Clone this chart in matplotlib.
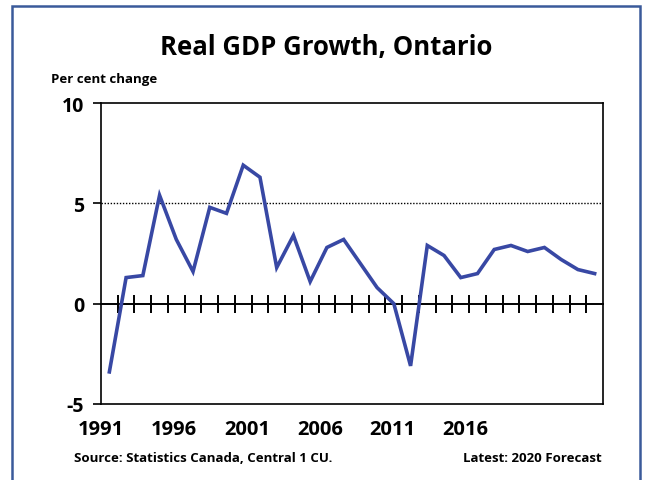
import matplotlib.pyplot as plt
from matplotlib.patches import Rectangle

# Ontario real GDP growth, per cent change
years = list(range(1991, 2021))
growth = [-3.4, 1.3, 1.4, 5.4, 3.2, 1.6, 4.8, 4.5, 6.9, 6.3,
          1.8, 3.4, 1.1, 2.8, 3.2, 2.0, 0.8, 0.0, -3.1, 2.9,
          2.4, 1.3, 1.5, 2.7, 2.9, 2.6, 2.8, 2.2, 1.7, 1.5]
year_labels = ["1991", "1996", "2001", "2006", "2011", "2016"]
y_ticks = [-5, 0, 5, 10]

plt.rcParams['font.family'] = ['Open Sans', 'DejaVu Sans']

line_color = '#3848A4'
frame_color = '#3A5A9A'

fig = plt.figure(figsize=(6.52, 4.81), dpi=100)
ax = fig.add_axes([101 / 652, 1 - 405 / 481, 502 / 652, 301 / 481])

# outer blue frame
fig.patches.append(Rectangle((12 / 652, -0.05), 628 / 652, 1.05 - 7 / 481,
                             transform=fig.transFigure, fill=False,
                             edgecolor=frame_color, linewidth=1.8))

ax.plot(years, growth, color=line_color, linewidth=2.6, solid_joinstyle='miter', zorder=3)
ax.set_xlim(1990.5, 2020.5)
ax.set_ylim(-5, 10)

# dotted line at 5
ax.axhline(5, color='black', linestyle=(0, (1, 1.2)), linewidth=1.0, zorder=1)

# zero axis with tick marks between years
ax.spines['bottom'].set_position(('data', 0))
ax.spines['bottom'].set_linewidth(1.4)
ax.set_xticks([y + 0.5 for y in years[:-1]])
ax.tick_params(axis='x', direction='inout', length=13, width=1.4, labelbottom=False)

for side in ['left', 'right', 'top']:
    ax.spines[side].set_linewidth(1.2)

# bottom border with year labels (Excel-style offset positions)
sec = ax.secondary_xaxis('bottom')
sec.spines['bottom'].set_linewidth(1.2)
label_pos = [1990.5 + 4.36 * i for i in range(len(year_labels))]
sec.set_xticks(label_pos)
sec.set_xticklabels(year_labels)
sec.tick_params(length=0, pad=11, labelsize=14.5)
for lab in sec.get_xticklabels():
    lab.set_fontweight('bold')

ax.set_yticks(y_ticks)
ax.set_yticklabels([str(v) for v in y_ticks], fontsize=14, fontweight='bold')
ax.tick_params(axis='y', direction='out', length=6, width=1.2, pad=6)

fig.text(0.5, 1 - 47 / 481, "Real GDP Growth, Ontario", ha='center', va='center',
         fontsize=18.5, fontweight='bold')
fig.text(51 / 652, 1 - 80 / 481, "Per cent change", ha='left', va='center',
         fontsize=9.5, fontweight='bold')
fig.text(74 / 652, 1 - 458 / 481, "Source: Statistics Canada, Central 1 CU.", ha='left',
         va='center', fontsize=9.5, fontweight='bold')
fig.text(602 / 652, 1 - 458 / 481, "Latest: 2020 Forecast", ha='right',
         va='center', fontsize=9.5, fontweight='bold')

fig.savefig('out.png', dpi=100)
